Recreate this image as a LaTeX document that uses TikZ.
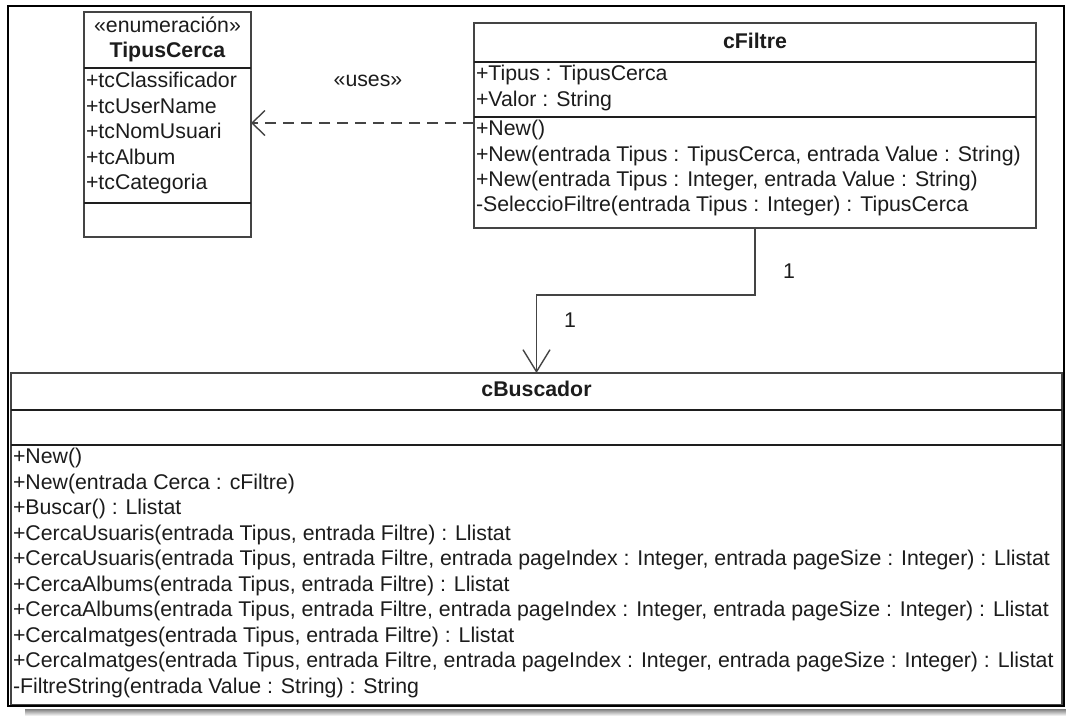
\documentclass[tikz,border=0pt]{standalone}
\usepackage{fontspec}
\setmainfont{Liberation Sans}
\usetikzlibrary{arrows.meta}

\definecolor{txt}{HTML}{1C1C1C}
\definecolor{edge}{HTML}{444444}
\definecolor{rule}{HTML}{1E1E1E}
\definecolor{shade}{HTML}{7E7E7E}

\begin{document}
\begin{tikzpicture}[x=1pt,y=-1pt,
  every node/.style={inner sep=0pt, outer sep=0pt},
  lbl/.style={text=txt, font=\fontsize{21.3}{25}\selectfont, text height=15pt, text depth=4pt},
  member/.style={lbl, anchor=west},
  title/.style={lbl, font=\fontsize{21.3}{25}\selectfont\bfseries},
  classbox/.style={draw=edge, line width=2pt, fill=white, anchor=north west},
  divider/.style={draw=rule, line width=1.3pt},
  depend/.style={draw=edge, line width=1.6pt, dash pattern=on 11pt off 7pt,
    -{Straight Barb[length=13pt, width=25pt, line width=1.4pt]}},
  assoc/.style={draw=edge, line width=1.6pt,
    -{Straight Barb[length=22pt, width=27pt, line width=1.4pt]}}
]
\useasboundingbox (0,0) rectangle (1066,716);
\fill[white] (0,0) rectangle (1066,716);

% frame shadow
\fill[shade] (25,709) rectangle (1066,716);

% ---------- TipusCerca (enumeration) ----------
\node[classbox, minimum width=167pt, minimum height=225pt] (tipus) at (84,12) {};
\draw[divider] (84,68) -- (251,68);
\draw[divider] (84,203) -- (251,203);
\node[lbl] (tipusst) at (167.5,27) {«enumeración»};
\node[title] (tipusnm) at (167.5,52) {TipusCerca};
\node[member] (ta1) at (86,82)  {+tcClassificador};
\node[member] (ta2) at (86,107.5) {+tcUserName};
\node[member] (ta3) at (86,133) {+tcNomUsuari};
\node[member] (ta4) at (86,158.5) {+tcAlbum};
\node[member] (ta5) at (86,184) {+tcCategoria};

% ---------- cFiltre ----------
\node[classbox, minimum width=562pt, minimum height=205pt] (filtre) at (474,23) {};
\draw[divider] (474,62) -- (1036,62);
\draw[divider] (474,117) -- (1036,117);
\node[title] (filtrenm) at (755,43) {cFiltre};
\node[member] (fa1) at (476,75)  {+Tipus : TipusCerca};
\node[member] (fa2) at (476,100.5) {+Valor : String};
\node[member] (fm1) at (476,130) {+New()};
\node[member] (fm2) at (476,155.5) {+New(entrada Tipus : TipusCerca, entrada Value : String)};
\node[member] (fm3) at (476,181) {+New(entrada Tipus : Integer, entrada Value : String)};
\node[member] (fm4) at (476,206) {-SeleccioFiltre(entrada Tipus : Integer) : TipusCerca};

% ---------- cBuscador ----------
\node[classbox, minimum width=1051pt, minimum height=332pt] (busc) at (11,373) {};
\draw[divider] (11,410) -- (1062,410);
\draw[divider] (11,445) -- (1062,445);
\node[title] (buscnm) at (536.5,391) {cBuscador};
\node[member] (bm1)  at (13,458)   {+New()};
\node[member] (bm2)  at (13,483.5) {+New(entrada Cerca : cFiltre)};
\node[member] (bm3)  at (13,509)   {+Buscar() : Llistat};
\node[member] (bm4)  at (13,534.5) {+CercaUsuaris(entrada Tipus, entrada Filtre) : Llistat};
\node[member] (bm5)  at (13,560)   {+CercaUsuaris(entrada Tipus, entrada Filtre, entrada pageIndex : Integer, entrada pageSize : Integer) : Llistat};
\node[member] (bm6)  at (13,585.5) {+CercaAlbums(entrada Tipus, entrada Filtre) : Llistat};
\node[member] (bm7)  at (13,611)   {+CercaAlbums(entrada Tipus, entrada Filtre, entrada pageIndex : Integer, entrada pageSize : Integer) : Llistat};
\node[member] (bm8)  at (13,636.5) {+CercaImatges(entrada Tipus, entrada Filtre) : Llistat};
\node[member] (bm9)  at (13,662)   {+CercaImatges(entrada Tipus, entrada Filtre, entrada pageIndex : Integer, entrada pageSize : Integer) : Llistat};
\node[member] (bm10) at (13,687.5) {-FiltreString(entrada Value : String) : String};

% ---------- connectors ----------
\coordinate (depy) at (0,123);
\draw[depend] (filtre.west |- depy) -- (tipus.east |- depy);
\node[lbl] (useslbl) at (368,81) {«uses»};

\coordinate (bend) at (0,295);
\draw[assoc] (filtre.south) -- (filtre.south |- bend) -| (busc.north);
\node[lbl] (mult1) at (789,273) {1};
\node[lbl] (mult2) at (570,322) {1};

% outer frame
\draw[black, line width=2.6pt] (8,6) rectangle (1064,706);
\end{tikzpicture}
\end{document}
